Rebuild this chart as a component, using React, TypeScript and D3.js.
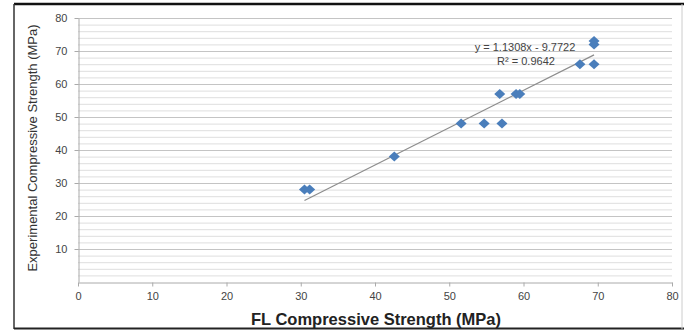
import React, { useEffect, useRef } from 'react';
import * as d3 from 'd3';

// FL vs experimental compressive strength (MPa)
const flStrength = [30.5, 31.2, 42.6, 51.6, 54.7, 57.1, 56.8, 59.0, 59.5, 67.6, 69.5, 69.5, 69.5];
const expStrength = [28, 28, 38, 48, 48, 48, 57, 57, 57, 66, 66, 72, 73];
const slope = 1.1308;
const intercept = -9.7722;
const equationText = 'y = 1.1308x - 9.7722';
const r2Text = 'R² = 0.9642';
const xTicks = [0, 10, 20, 30, 40, 50, 60, 70, 80];
const yTicks = [10, 20, 30, 40, 50, 60, 70, 80];

const App = () => {
  const ref = useRef<SVGSVGElement>(null);

  useEffect(() => {
    const width = 688;
    const height = 330;
    const marginLeft = 78;
    const marginRight = 672;
    const marginTop = 18;
    const marginBottom = 282;
    const font = '"Liberation Sans", Arial, sans-serif';

    const svg = d3.select(ref.current);
    svg.selectAll('*').remove();

    const x = d3.scaleLinear().domain([0, 80]).range([marginLeft, marginRight]);
    const y = d3.scaleLinear().domain([0, 80]).range([marginBottom, marginTop]);

    // outer frame
    svg.append('rect').attr('width', width).attr('height', height).attr('fill', '#fff');
    svg.append('line').attr('x1', 14).attr('x2', 684).attr('y1', 4).attr('y2', 4)
      .attr('stroke', '#111').attr('stroke-width', 2.5);
    svg.append('line').attr('x1', 14).attr('x2', 14).attr('y1', 4).attr('y2', 329)
      .attr('stroke', '#333').attr('stroke-width', 1.5);
    svg.append('line').attr('x1', 14).attr('x2', 684).attr('y1', 328.5).attr('y2', 328.5)
      .attr('stroke', '#222').attr('stroke-width', 2);
    svg.append('line').attr('x1', 682).attr('x2', 682).attr('y1', 4).attr('y2', 329)
      .attr('stroke', '#ccc').attr('stroke-width', 1);

    // minor gridlines every 2
    const minor = d3.range(2, 80, 2).filter(v => v % 10 !== 0);
    svg.append('g').selectAll('line').data(minor).join('line')
      .attr('x1', marginLeft).attr('x2', marginRight)
      .attr('y1', d => y(d) + 0.5).attr('y2', d => y(d) + 0.5)
      .attr('stroke', '#dedede');

    // major gridlines
    svg.append('g').selectAll('line').data(yTicks).join('line')
      .attr('x1', marginLeft).attr('x2', marginRight)
      .attr('y1', d => y(d) + 0.5).attr('y2', d => y(d) + 0.5)
      .attr('stroke', '#c4c4c4');

    // y axis
    const yAxis = svg.append('g')
      .attr('transform', `translate(${marginLeft + 0.5},0)`)
      .call(d3.axisLeft(y).tickValues(yTicks).tickSize(4).tickSizeOuter(0));
    yAxis.select('.domain').attr('stroke', '#aaa');
    yAxis.selectAll('.tick line').attr('stroke', '#aaa');
    yAxis.selectAll('text').attr('fill', '#444').attr('font-size', 11)
      .attr('font-family', font).attr('x', -11);

    // x axis
    const xAxis = svg.append('g')
      .attr('transform', `translate(0,${marginBottom + 0.5})`)
      .call(d3.axisBottom(x).tickValues(xTicks).tickSize(4).tickSizeOuter(0));
    xAxis.select('.domain').attr('stroke', '#aaa');
    xAxis.selectAll('.tick line').attr('stroke', '#aaa');
    xAxis.selectAll('text').attr('fill', '#444').attr('font-size', 11)
      .attr('font-family', font).attr('y', 10);

    // trendline
    const xMin = d3.min(flStrength) as number;
    const xMax = d3.max(flStrength) as number;
    svg.append('line')
      .attr('x1', x(xMin)).attr('y1', y(slope * xMin + intercept))
      .attr('x2', x(xMax)).attr('y2', y(slope * xMax + intercept))
      .attr('stroke', '#8c8c8c').attr('stroke-width', 1.2);

    // diamond markers
    const diamond = 'M0,-5L5.5,0L0,5L-5.5,0Z';
    svg.append('g').selectAll('path').data(flStrength).join('path')
      .attr('transform', (d, i) => `translate(${x(d)},${y(expStrength[i])})`)
      .attr('d', diamond)
      .attr('fill', '#4a7ebb');

    // equation labels
    svg.append('text').attr('x', 525).attr('y', 51).attr('text-anchor', 'middle')
      .attr('font-family', font).attr('font-size', 11).attr('fill', '#444')
      .text(equationText);
    svg.append('text').attr('x', 526).attr('y', 65).attr('text-anchor', 'middle')
      .attr('font-family', font).attr('font-size', 11).attr('fill', '#444')
      .text(r2Text);

    // axis titles
    svg.append('text')
      .attr('transform', `translate(37,${(marginTop + marginBottom) / 2 - 2}) rotate(-90)`)
      .attr('text-anchor', 'middle')
      .attr('font-family', font).attr('font-size', 13).attr('fill', '#333')
      .text('Experimental Compressive Strength (MPa)');
    svg.append('text')
      .attr('x', 376).attr('y', 325)
      .attr('text-anchor', 'middle')
      .attr('font-family', font).attr('font-size', 16.5).attr('font-weight', 'bold').attr('fill', '#222')
      .text('FL Compressive Strength (MPa)');
  }, []);

  return (
    <svg ref={ref} width={688} height={330}
      style={{ position: 'absolute', left: 0, top: 0, display: 'block' }} />
  );
};

export default App;
